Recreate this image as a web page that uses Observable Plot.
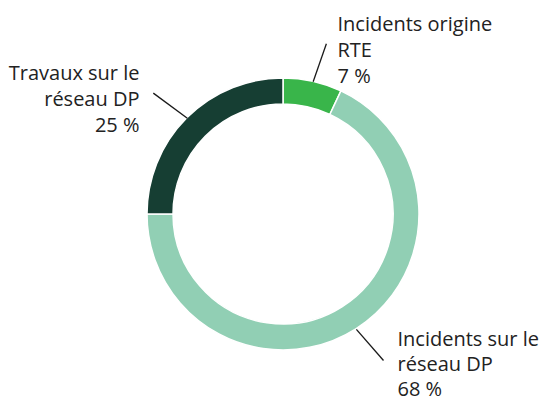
<!DOCTYPE html>
<html><head><meta charset="utf-8">
<script src="https://cdn.jsdelivr.net/npm/d3@7"></script>
<script src="https://cdn.jsdelivr.net/npm/@observablehq/plot@0.6"></script>
<style>body{margin:0;background:#fff}#chart svg{display:block}</style>
</head><body><div id="chart"></div>
<script>
// Data
const categories = ["Incidents origine RTE", "Incidents sur le réseau DP", "Travaux sur le réseau DP"];
const labelLines = [["Incidents origine", "RTE"], ["Incidents sur le", "réseau DP"], ["Travaux sur le", "réseau DP"]];
const values = [7, 68, 25];
const percentLabels = ["7 %", "68 %", "25 %"];
const colors = ["#39b54a", "#91cfb4", "#163e33"];

// Layout
const W = 539, H = 400;
const cx = 283, cy = 214, rOuter = 136, rInner = 110;
const labelPos = [
  {x: 337, y: 30, gap: 26, anchor: "start", lead: [136, 176, 1.5]},
  {x: 397, y: 345, gap: 25, anchor: "start", lead: [136, 177, -2]},
  {x: 139, y: 79, gap: 26, anchor: "end", lead: [136, 178, -2]}
];

const pie = d3.pie().sort(null).value(d => d.value).startAngle(0).endAngle(2 * Math.PI);
const slices = pie(categories.map((c, i) => ({category: c, value: values[i], color: colors[i]})));

const textRows = [];
categories.forEach((c, i) => {
  const lines = [...labelLines[i], percentLabels[i]];
  lines.forEach((t, j) => textRows.push({x: labelPos[i].x, y: labelPos[i].y + j * labelPos[i].gap, text: t, anchor: labelPos[i].anchor}));
});

const leaders = slices.map((s, i) => {
  const mid = (s.startAngle + s.endAngle) / 2;
  const [r1, r2, off] = labelPos[i].lead;
  const a2 = mid + off * Math.PI / 180;
  return {
    x1: cx + r1 * Math.sin(mid), y1: cy - r1 * Math.cos(mid),
    x2: cx + r2 * Math.sin(a2), y2: cy - r2 * Math.cos(a2)
  };
});

const arcGen = d3.arc().innerRadius(rInner).outerRadius(rOuter);

const donut = (index, scales) => {
  const g = d3.create("svg:g")
    .attr("transform", `translate(${scales.x(cx)},${scales.y(cy)})`);
  g.selectAll("path").data(slices).join("path")
    .attr("d", arcGen)
    .attr("fill", d => d.data.color)
    .attr("stroke", "#fff")
    .attr("stroke-width", 1.5);
  return g.node();
};

const chart = Plot.plot({
  width: W, height: H,
  margin: 0,
  x: {domain: [0, W], range: [0, W], axis: null},
  y: {domain: [0, H], range: [0, H], axis: null},
  style: {fontFamily: "'Open Sans', sans-serif", background: "#fff"},
  marks: [
    donut,
    Plot.link(leaders, {x1: "x1", y1: "y1", x2: "x2", y2: "y2", stroke: "#1a1a1a", strokeWidth: 1.3}),
    Plot.text(textRows.filter(d => d.anchor === "start"), {x: "x", y: "y", text: "text", textAnchor: "start", lineAnchor: "bottom", fontSize: 20, fill: "#222"}),
    Plot.text(textRows.filter(d => d.anchor === "end"), {x: "x", y: "y", text: "text", textAnchor: "end", lineAnchor: "bottom", fontSize: 20, fill: "#222"})
  ]
});
document.getElementById("chart").appendChild(chart);
</script>
</body></html>
